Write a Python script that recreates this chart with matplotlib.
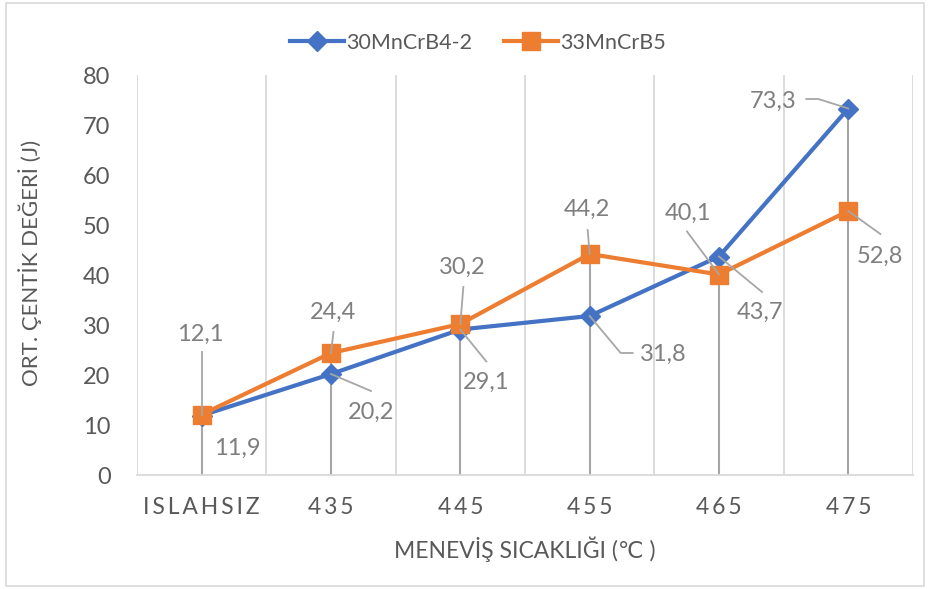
import numpy as np
import matplotlib
matplotlib.use("Agg")
import matplotlib.pyplot as plt
from matplotlib.lines import Line2D
from matplotlib.patches import Rectangle
from matplotlib.transforms import IdentityTransform

# data
categories = ["ISLAHSIZ", "435", "445", "455", "465", "475"]
series_names = ["30MnCrB4-2", "33MnCrB5"]
mncrb4 = [11.9, 20.2, 29.1, 31.8, 43.7, 73.3]
mncrb5 = [12.1, 24.4, 30.2, 44.2, 40.1, 52.8]

BLUE = "#4472C4"
ORANGE = "#ED7D31"
TEXT = "#595959"
LABEL = "#7F7F7F"
LEADER = "#A6A6A6"
GRID = "#D9D9D9"

plt.rcParams["font.family"] = ["Lato", "DejaVu Sans"]

# label placement in pixels relative to the marker (x right, y down)
# each entry: text offset, leader path (or None)
blue_place = [
    ((36, 32.5), None),
    ((40, 38), [(0, 0), (40, 17)]),
    ((26, 52.5), [(0, 0), (26, 32)]),
    ((74, 38), [(0, 0), (31, 37), (43, 37)]),
    ((41, 55.5), [(0, 0), (43, 35.5)]),
    ((-75, -7.5), [(0, 0), (-30, -9.5), (-42, -9.5)]),
]
orange_place = [
    ((-1, -80.5), [(0, 0), (0, -62.5)]),
    ((2, -41), [(0, 0), (2.5, -21)]),
    ((2, -57), [(0, 0), (3, -37)]),
    ((-3, -45), [(0, 0), (-2, -24)]),
    ((-31, -61.5), [(0, 0), (-32, -43)]),
    ((32, 45), [(0, 0), (32, 23)]),
]

W, H = 929, 589
fig = plt.figure(figsize=(W / 100, H / 100), dpi=100)
ax = fig.add_axes([137 / W, 1 - 475 / H, 776 / W, 400 / H])

x = np.arange(len(categories))
ax.set_xlim(-0.5, len(categories) - 0.5)
ax.set_ylim(0, 80)

# vertical grid between categories
for b in np.arange(-0.5, len(categories), 1.0):
    ax.axvline(b, color=GRID, lw=1.3, zorder=0)

# drop lines from the higher point to the axis
tops = np.maximum(mncrb4, mncrb5)
ax.vlines(x, 0, tops, color=LEADER, lw=1.5, zorder=1)

ax.plot(x, mncrb4, color=BLUE, lw=3, marker="D", ms=10, label=series_names[0], zorder=3)
ax.plot(x, mncrb5, color=ORANGE, lw=3, marker="s", ms=12.5, label=series_names[1], zorder=3)

for s in ["top", "right", "left"]:
    ax.spines[s].set_visible(False)
ax.spines["bottom"].set_color(GRID)
ax.spines["bottom"].set_linewidth(1.3)

ax.set_yticks(np.arange(0, 81, 10))
ax.tick_params(axis="y", length=0, pad=19, labelsize=17, labelcolor=TEXT)
ax.set_xticks(x)
ax.set_xticklabels(["\u2009".join(c) for c in categories])
ax.tick_params(axis="x", length=0, pad=16, labelsize=16.5, labelcolor=TEXT)

fig.text(525 / W, 1 - 549 / H, "MENEVİŞ SICAKLIĞI (℃ )", ha="center", va="center",
         fontsize=16.5, color=TEXT)
fig.text(30 / W, 1 - 263 / H, "ORT. ÇENTİK DEĞERİ (J)", ha="center", va="center",
         rotation=90, fontsize=16, color=TEXT)

fig.legend(loc="center", bbox_to_anchor=(478 / W, 1 - 43 / H), ncol=2, frameon=False,
           fontsize=15.5, labelcolor=TEXT, handlelength=2.5, columnspacing=1.5,
           handletextpad=0.1)


def put_labels(values, places):
    for i, (v, (toff, path)) in enumerate(zip(values, places)):
        px, py = ax.transData.transform((i, v))
        if path:
            xs = [px + dx for dx, dy in path]
            ys = [py - dy for dx, dy in path]
            fig.add_artist(Line2D(xs, ys, color=LEADER, lw=1.3, transform=IdentityTransform(),
                                  zorder=2))
        fig.text(px + toff[0], py - toff[1], f"{v:.1f}".replace(".", ","),
                 transform=IdentityTransform(), ha="center", va="center",
                 fontsize=17, color=LABEL, zorder=4)


put_labels(mncrb4, blue_place)
put_labels(mncrb5, orange_place)

# chart border
fig.add_artist(Rectangle((6 / W, 3 / H), 918 / W, 583 / H, transform=fig.transFigure,
                         fill=False, edgecolor=GRID, lw=1.2))

fig.savefig("out.png", dpi=100)
